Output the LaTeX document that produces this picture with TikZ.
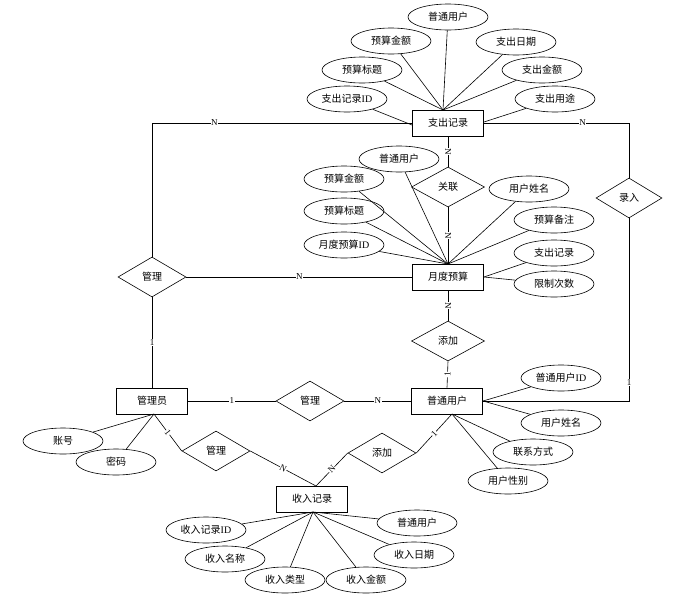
\documentclass[tikz,border=0pt]{standalone}
\usepackage{fontspec}
\setmainfont{Liberation Serif}
\newfontfamily\cjk{Noto Sans CJK SC}
\usetikzlibrary{shapes.geometric}
\begin{document}
\begin{tikzpicture}[x=1pt,y=-1pt,line width=0.6pt,
  ent/.style={draw, rectangle, minimum width=71, minimum height=26, inner sep=0, font=\cjk\fontsize{10}{12}\selectfont},
  attr/.style={draw, ellipse, minimum width=80, minimum height=26, inner sep=0, font=\cjk\fontsize{10}{12}\selectfont},
  rel/.style={draw, diamond, minimum width=68, minimum height=40, inner sep=0, font=\cjk\fontsize{10}{12}\selectfont},
  lab/.style={fill=white, inner sep=0.5pt, font=\fontsize{9}{10}\selectfont}]
\useasboundingbox (0,0) rectangle (697,600);
% entities
\node[ent] (zc) at (448,123) {支出记录};
\node[ent] (yd) at (448,277) {月度预算};
\node[ent] (pu) at (447,401) {普通用户};
\node[ent] (gly) at (152,401) {管理员};
\node[ent] (sr) at (312,499) {收入记录};
% relationships
\node[rel, minimum width=73] (gl) at (448,187) {关联};
\node[rel, minimum width=73] (tj1) at (448,341) {添加};
\node[rel] (g1) at (152,277) {管理};
\node[rel] (gm) at (310,401) {管理};
\node[rel] (gd) at (216,451) {管理};
\node[rel] (tj2) at (382,453) {添加};
\node[rel, minimum width=66] (lr) at (629,198) {录入};
% attributes of 支出记录
\node[attr] (a1) at (448,17) {普通用户};
\node[attr] (a2) at (391,41) {预算金额};
\node[attr] (a3) at (516,42) {支出日期};
\node[attr] (a4) at (362,70) {预算标题};
\node[attr] (a5) at (542,70) {支出金额};
\node[attr] (a6) at (347,99) {支出记录{\rmfamily ID}};
\node[attr] (a7) at (555,99) {支出用途};
\coordinate (zt) at (443,110);
\coordinate (zl) at (412,125);
\coordinate (zr) at (484,122);
\foreach \n in {a1,a2,a3,a4,a5} \draw (\n) -- (zt);
\draw (a6) -- (zl);
\draw (a7) -- (zr);
% attributes of 月度预算
\node[attr] (b1) at (399,159) {普通用户};
\node[attr] (b2) at (344,179) {预算金额};
\node[attr] (b3) at (344,211) {预算标题};
\node[attr] (b4) at (344,245) {月度预算{\rmfamily ID}};
\node[attr] (b5) at (529,189) {用户姓名};
\node[attr] (b6) at (554,220) {预算备注};
\node[attr] (b7) at (554,253) {支出记录};
\node[attr] (b8) at (554,284) {限制次数};
\coordinate (yt) at (448,264);
\coordinate (yr) at (484,277);
\foreach \n in {b1,b2,b3,b4,b5,b6} \draw (\n) -- (yt);
\draw (b7) -- (yr);
\draw (b8) -- (yr);
% attributes of 普通用户
\node[attr] (c1) at (561,378) {普通用户{\rmfamily ID}};
\node[attr] (c2) at (561,423) {用户姓名};
\node[attr] (c3) at (533,452) {联系方式};
\node[attr] (c4) at (508,481) {用户性别};
\coordinate (pr) at (483,401);
\coordinate (pb) at (452,414);
\draw (c1) -- (pr);
\draw (c2) -- (pr);
\draw (c3) -- (pb);
\draw (c4) -- (pb);
% attributes of 管理员
\node[attr] (d1) at (63,441) {账号};
\node[attr] (d2) at (116,462) {密码};
\coordinate (gb) at (154,414);
\draw (d1) -- (gb);
\draw (d2) -- (gb);
% attributes of 收入记录
\node[attr] (e1) at (206,530) {收入记录{\rmfamily ID}};
\node[attr] (e2) at (225,559) {收入名称};
\node[attr] (e3) at (285,580) {收入类型};
\node[attr] (e4) at (366,580) {收入金额};
\node[attr] (e5) at (414,555) {收入日期};
\node[attr] (e6) at (417,523) {普通用户};
\coordinate (sb) at (313,512);
\foreach \n in {e1,e2,e3,e4,e5,e6} \draw (\n) -- (sb);
% relationship connectors
\coordinate (k1) at (152,123);
\coordinate (k2) at (629,123);
\coordinate (k3) at (629,401);
\coordinate (st) at (316,486);
\draw (zc.west) -- node[lab,pos=0.76]{N} (k1) -- (g1.north);
\draw (g1.south) -- node[lab]{1} (gly.north);
\draw (g1.east) -- node[lab]{N} (yd.west);
\draw (zc.east) -- node[lab,pos=0.68]{N} (k2) -- (lr.north);
\draw (lr.south) -- node[lab,pos=0.9]{1} (k3) -- (pu.east);
\draw (zc.south) -- node[lab,sloped]{N} (gl.north);
\draw (gl.south) -- node[lab,sloped]{N} (yd.north);
\draw (yd.south) -- node[lab,sloped]{N} (tj1.north);
\draw (tj1.south) -- node[lab,sloped]{1} (pu.north);
\draw (gly.east) -- node[lab]{1} (gm.west);
\draw (gm.east) -- node[lab]{N} (pu.west);
\draw (gb) -- node[lab,sloped]{1} (gd.west);
\draw (gd.east) -- node[lab,sloped]{N} (st);
\draw (tj2.west) -- node[lab,sloped]{N} (st);
\draw (tj2.east) -- node[lab,sloped]{1} (pb);
\end{tikzpicture}
\end{document}
